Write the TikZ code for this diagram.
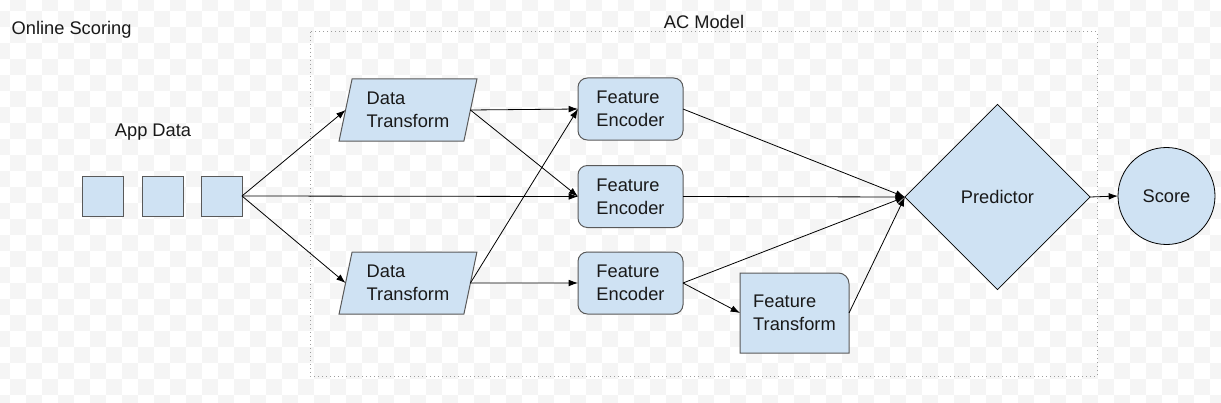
\documentclass[tikz,border=0pt]{standalone}
\usepackage{fontspec}
\setmainfont{Liberation Sans}
\usetikzlibrary{arrows.meta,shapes.geometric,backgrounds}

\definecolor{caixa}{HTML}{CFE2F3}
\definecolor{borda}{HTML}{595959}
\definecolor{xadrez}{HTML}{F5F5F5}
\definecolor{pontilhado}{HTML}{9E9E9E}

\tikzset{
  texto/.style={font=\fontsize{13.7}{17.3}\selectfont, text=black!90},
  bloco/.style={texto, draw=borda, line width=0.75pt, fill=caixa, inner sep=0pt, outer sep=0pt, align=left},
  dado/.style={bloco, minimum width=30.75pt, minimum height=30pt},
  transf/.style={bloco, trapezium, trapezium left angle=75, trapezium right angle=105,
    trapezium stretches=true, minimum width=103.5pt, minimum height=46.5pt},
  encoder/.style={bloco, rounded corners=7pt, minimum width=78.75pt, minimum height=46.5pt},
  moldura/.style={pontilhado, line width=0.75pt, dash pattern=on 0.75pt off 2.25pt},
  seta/.style={-{Latex[length=7pt,width=5pt]}, line width=0.6pt}
}

\begin{document}
\begin{tikzpicture}[x=0.75pt, y=-0.75pt]
      \useasboundingbox (0,0) rectangle (1221,403);

      % Fundo xadrez
      \begin{scope}[on background layer]
        \clip (0,0) rectangle (1221,403);
        \foreach \i in {-1,...,76}
          \foreach \j in {-1,...,24}{
            \pgfmathtruncatemacro\cor{mod(\i+\j+2,2)}
            \ifnum\cor=1 \fill[xadrez] (10+16*\i,11+16*\j) rectangle ++(16,16); \fi
          }
      \end{scope}

      % Titulos
      \node[texto, anchor=west] (online) at (7,30) {Online Scoring};
      \node[texto] (acmodel) at (704,21.5) {AC Model};
      \node[texto] (appdata) at (153,132.5) {App Data};

      % Moldura do modelo
      \draw[moldura] (310,32) rectangle (1097,376);

      % Dados de entrada
      \node[dado] (d1) at (102.5,196) {};
      \node[dado] (d2) at (162.5,196) {};
      \node[dado] (d3) at (221.5,196) {};

      % Blocos do modelo
      \node[transf] (dt1) at (408,110) {Data\\Transform};
      \node[transf] (dt2) at (408,283) {Data\\Transform};

      \node[encoder] (fe1) at (630.5,109) {Feature\\Encoder};
      \node[encoder] (fe2) at (630.5,196.5) {Feature\\Encoder};
      \node[encoder] (fe3) at (630.5,283) {Feature\\Encoder};

      \node[bloco, draw=none, fill=none, minimum width=81.75pt, minimum height=60pt] (ft) at (794.5,313) {Feature\\Transform};
      \begin{scope}[on background layer]
        \draw[draw=borda, line width=0.75pt, fill=caixa] (ft.south west) -- (ft.north west)
          -- ([xshift=-8pt]ft.north east) arc[start angle=90, end angle=0, radius=8pt]
          -- (ft.south east) -- cycle;
      \end{scope}

      \node[bloco, diamond, aspect=1, minimum size=139pt, draw=black, line width=0.5pt] (pred) at (997.5,197) {Predictor};
      \node[bloco, circle, minimum size=72.75pt, draw=black, line width=0.6pt] (score) at (1166.5,196) {Score};

      % Conexoes
      \draw[seta] (d3.east) -- (dt1.west);
      \draw[seta] (d3.east) -- (fe2.west);
      \draw[seta] (d3.east) -- (dt2.west);

      \draw[seta] (dt1.east) -- (fe1.west);
      \draw[seta] (dt1.east) -- (fe2.west);
      \draw[seta] (dt2.east) -- (fe1.west);
      \draw[seta] (dt2.east) -- (fe3.west);

      \draw[seta] (fe1.east) -- (pred.west);
      \draw[seta] (fe2.east) -- (pred.west);
      \draw[seta] (fe3.east) -- (pred.west);
      \draw[seta] (fe3.east) -- (ft.west);
      \draw[seta] (ft.east) -- (pred.west);

      \draw[seta] (pred.east) -- (score.west);

    \end{tikzpicture}
\end{document}
